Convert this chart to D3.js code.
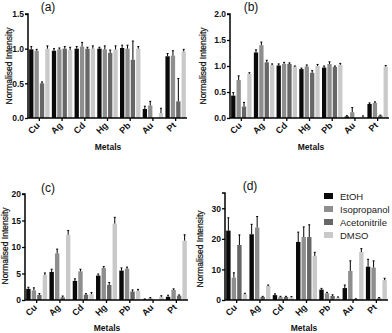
<!DOCTYPE html>
<html><head><meta charset="utf-8">
<script src="https://cdn.jsdelivr.net/npm/d3@7"></script>
<style>body{margin:0;background:#fff}svg{display:block}text{font-family:Arial,"Liberation Sans",sans-serif}</style>
</head><body><svg id="c" width="392" height="333"></svg>
<script>
const metals = ["Cu","Ag","Cd","Hg","Pb","Au","Pt"];
const solvents = ["EtOH","Isopropanol","Acetonitrile","DMSO"];
const colors = ["#0a0a0a","#8e8e8e","#666666","#c9c9c9"];

// panel values [metal][solvent]; errors are upper bar lengths
const aVals = [[0.99,0.97,0.50,1.00],[0.97,0.99,1.00,0.98],[1.00,1.03,1.00,1.00],[1.00,0.99,0.94,0.99],[1.01,1.00,0.84,1.00],[0.13,0.18,0.00,0.07],[0.89,0.90,0.24,0.96]];
const aErr  = [[0.04,0.02,0.02,0.04],[0.03,0.02,0.03,0.04],[0.03,0.06,0.02,0.04],[0.02,0.05,0.04,0.05],[0.04,0.05,0.27,0.03],[0.04,0.06,0.00,0.07],[0.04,0.07,0.33,0.03]];
const bVals = [[0.43,0.73,0.22,0.85],[1.26,1.40,1.07,1.02],[1.01,1.04,1.04,0.99],[0.94,0.99,0.87,1.00],[0.97,1.04,0.98,1.02],[0.03,0.11,0.00,0.03],[0.27,0.29,0.045,0.99]];
const bErr  = [[0.06,0.08,0.08,0.02],[0.05,0.06,0.04,0.02],[0.03,0.03,0.02,0.01],[0.02,0.03,0.04,0.03],[0.03,0.04,0.02,0.03],[0.015,0.09,0.00,0.01],[0.02,0.02,0.01,0.02]];
const cVals = [[2.1,1.8,0.95,4.7],[5.3,8.8,0.5,12.3],[3.6,5.4,1.0,1.1],[4.6,6.05,2.85,14.4],[5.55,5.9,1.6,1.7],[0.1,0.3,0.0,0.6],[0.6,1.9,0.8,11.2]];
const cErr  = [[0.3,0.5,0.25,0.4],[0.5,0.8,0.25,0.8],[0.4,0.4,0.2,0.3],[0.3,0.25,0.45,1.2],[0.5,0.3,0.3,0.3],[0.1,0.15,0.0,0.2],[0.3,0.2,0.15,1.1]];
const dVals = [[22.7,7.3,18.0,1.85],[21.5,23.7,1.0,4.6],[1.6,1.0,1.0,0.9],[19.0,20.6,20.6,14.4],[3.4,2.2,1.3,0.8],[3.9,9.5,0.3,15.7],[10.9,10.6,0.55,6.5]];
const dErr  = [[4.2,1.6,3.3,0.35],[3.25,3.6,0.2,0.3],[0.4,0.2,0.2,0.2],[3.2,3.3,4.0,1.2],[0.4,0.3,0.4,0.2],[1.0,3.3,0.1,1.1],[2.4,2.2,0.25,0.6]];

const panels = [
  {label:"(a)", vals:aVals, err:aErr, ymax:1.5, ticks:[0,0.5,1.0,1.5], fmt:d3.format(".1f"), x0:28, x1:187, yT:14, y0:118, tx:48, ty:11, ylx:12, yly:66, mx:108, my:150},
  {label:"(b)", vals:bVals, err:bErr, ymax:2.0, ticks:[0,0.5,1.0,1.5,2.0], fmt:d3.format(".1f"), x0:230, x1:389, yT:14, y0:118, tx:251, ty:11, ylx:206, yly:66, mx:311, my:150},
  {label:"(c)", vals:cVals, err:cErr, ymax:20, ticks:[0,5,10,15,20], fmt:d3.format("d"), x0:25, x1:188, yT:194, y0:300, tx:48, ty:192, ylx:8, yly:246, mx:107, my:331},
  {label:"(d)", vals:dVals, err:dErr, ymax:35, ticks:[0,10,20,30], fmt:d3.format("d"), x0:225, x1:388, yT:193, y0:300, tx:250, ty:190, ylx:203, yly:249, mx:304, my:331}
];

const svg = d3.select("#c");

panels.forEach(p => {
  const g = svg.append("g");
  const x = d3.scaleBand().domain(metals).range([p.x0, p.x1]).paddingInner(0.1).paddingOuter(0.05);
  const xi = d3.scaleBand().domain(solvents).range([0, x.bandwidth()]).paddingInner(0.2);
  const y = d3.scaleLinear().domain([0, p.ymax]).range([p.y0, p.yT]);

  metals.forEach((m, mi) => {
    solvents.forEach((s, si) => {
      const v = p.vals[mi][si], e = p.err[mi][si];
      const bx = x(m) + xi(s);
      if (v > 0) {
        g.append("rect").attr("x", bx).attr("y", y(v)).attr("width", xi.bandwidth()).attr("height", y(0) - y(v)).attr("fill", colors[si]);
      }
      if (e > 0) {
        const cx = bx + xi.bandwidth() / 2;
        g.append("line").attr("x1", cx).attr("x2", cx).attr("y1", y(v)).attr("y2", y(v + e)).attr("stroke", "#000").attr("stroke-width", 1);
        g.append("line").attr("x1", cx - 1).attr("x2", cx + 1).attr("y1", y(v + e)).attr("y2", y(v + e)).attr("stroke", "#000").attr("stroke-width", 1);
      }
    });
  });

  const ya = g.append("g").attr("transform", `translate(${p.x0},0)`)
    .call(d3.axisLeft(y).tickValues(p.ticks).tickFormat(p.fmt).tickSize(3).tickPadding(1));
  ya.select(".domain").attr("stroke-width", 1.5).attr("d", `M-3,${p.yT}H0V${p.y0}`);
  ya.selectAll(".tick line").attr("stroke-width", 1.3);
  ya.selectAll("text").attr("font-size", 8.5).attr("font-weight", "bold").attr("fill", "#111");

  const xa = g.append("g").attr("transform", `translate(0,${p.y0})`)
    .call(d3.axisBottom(x).tickSize(3).tickSizeOuter(0));
  xa.select(".domain").attr("stroke-width", 1.5).attr("d", `M${p.x0},0H${p.x1}`);
  xa.selectAll(".tick line").attr("stroke-width", 1.3);
  xa.selectAll("text").attr("font-size", 9).attr("font-weight", "bold").attr("fill", "#111")
    .attr("text-anchor", "end").attr("dy", null).attr("y", 0)
    .attr("transform", "translate(1,8) rotate(-45)");

  g.append("text").attr("x", p.tx).attr("y", p.ty).attr("text-anchor", "middle").attr("font-size", 12).attr("fill", "#111").text(p.label);
  g.append("text").attr("transform", `translate(${p.ylx},${p.yly}) rotate(-90)`).attr("text-anchor", "middle").attr("font-size", 8.5).attr("fill", "#111").attr("stroke", "#111").attr("stroke-width", 0.2).text("Normalised Intensity");
  g.append("text").attr("x", p.mx).attr("y", p.my).attr("text-anchor", "middle").attr("font-size", 8.5).attr("font-weight", "bold").attr("fill", "#111").text("Metals");
});

// legend in panel (d)
const lg = svg.append("g");
solvents.forEach((s, i) => {
  const yy = 196 + i * 13;
  lg.append("rect").attr("x", 324).attr("y", yy - 3).attr("width", 9).attr("height", 6).attr("fill", colors[i]);
  lg.append("text").attr("x", 340).attr("y", yy + 3.5).attr("font-size", 9.5).attr("fill", "#222").text(s);
});
</script></body></html>
